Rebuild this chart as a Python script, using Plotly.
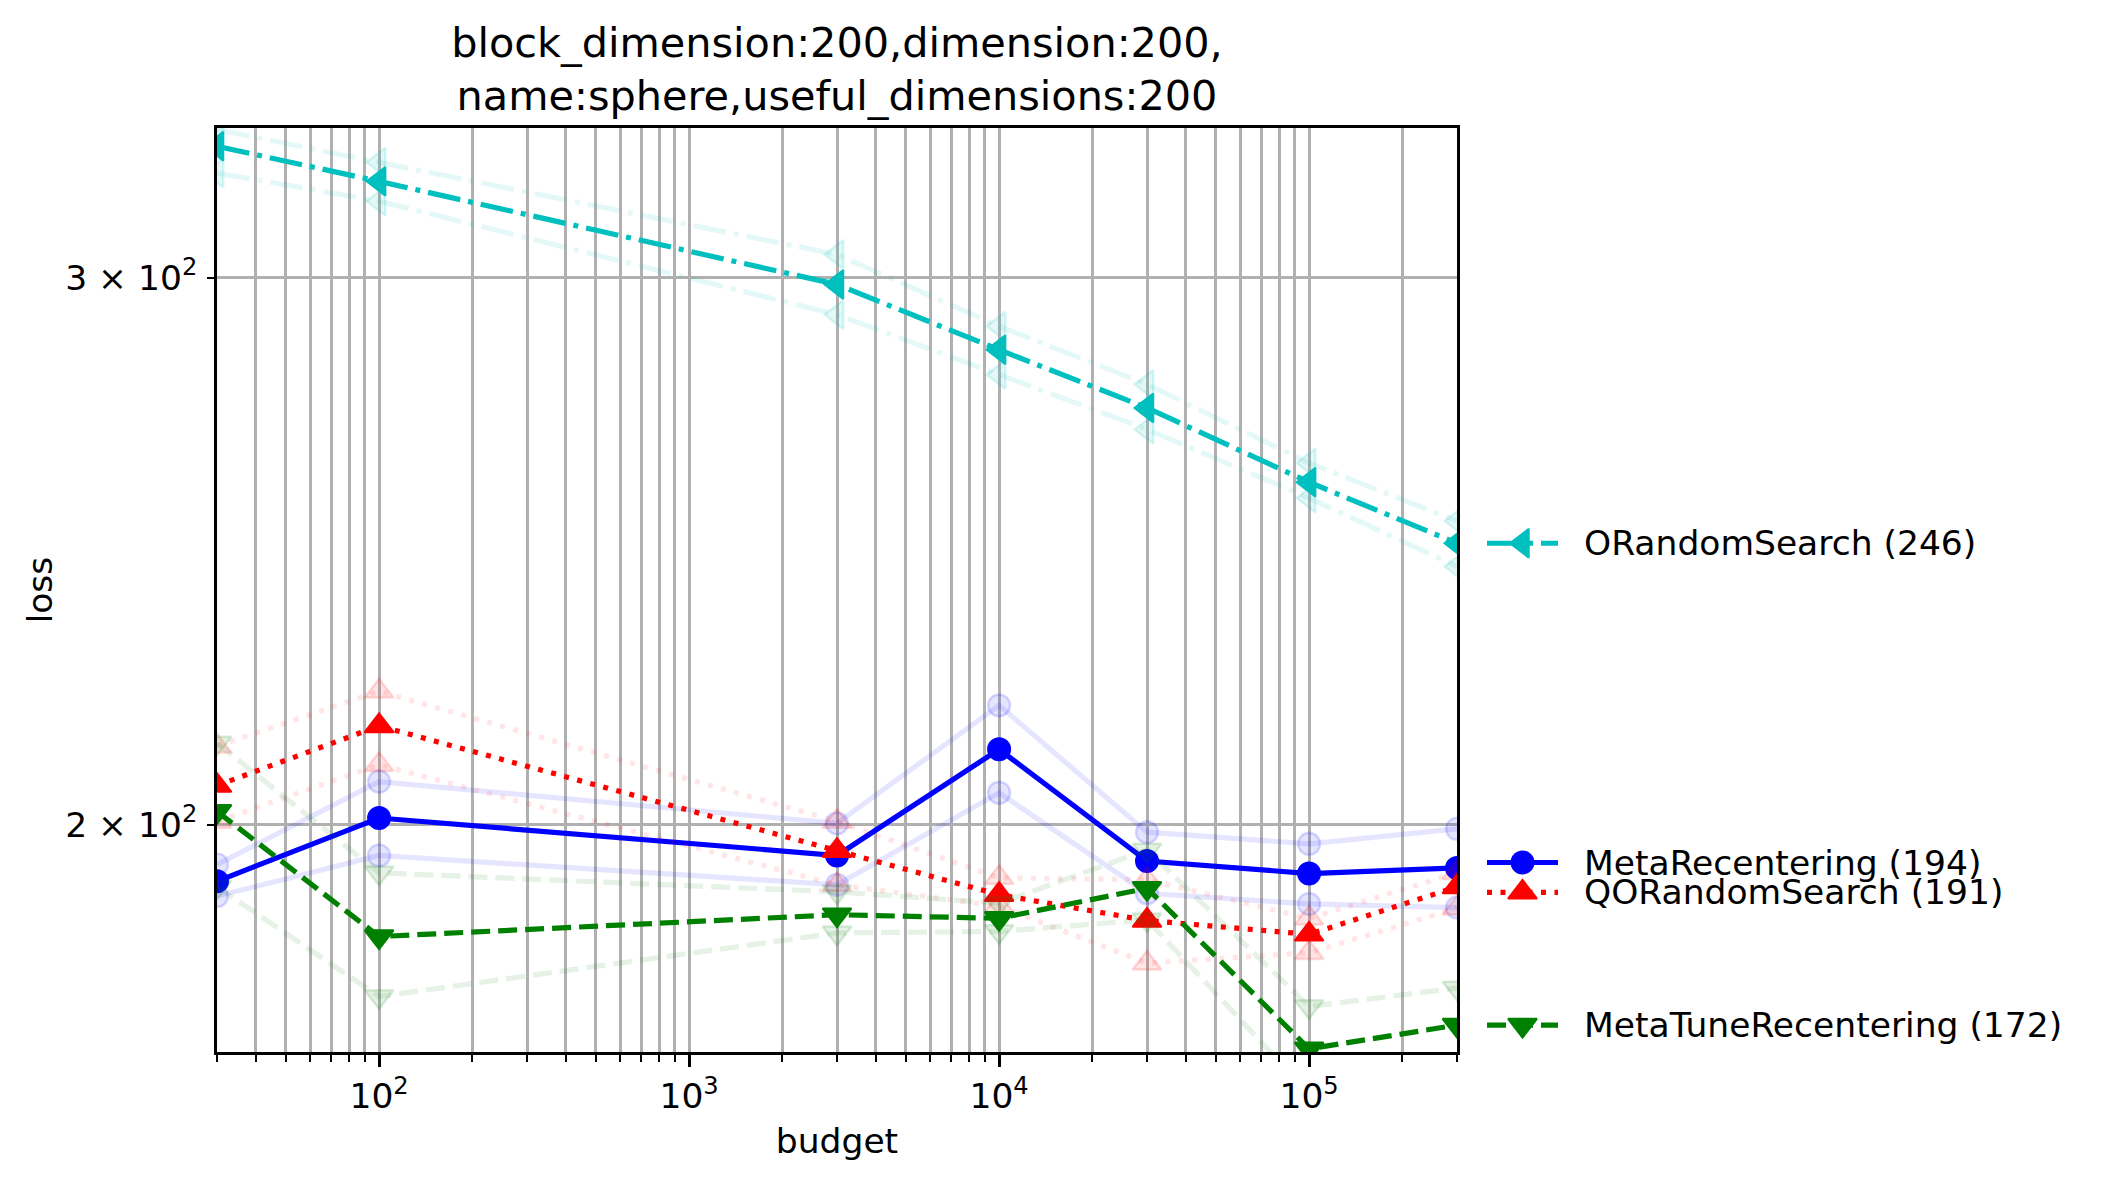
import math
import plotly.graph_objects as go

# ---------------- data ----------------
budgets = [30, 100, 3000, 10000, 30000, 100000, 300000]

orandom_mean = [330.7, 322.2, 298.5, 284.4, 272.4, 257.8, 246.4]
orandom_hi = [334.8, 326.8, 305.2, 289.4, 277.2, 261.5, 250.5]
orandom_lo = [324.2, 317.5, 291.9, 279.2, 268.1, 254.8, 242.2]

metarec_mean = [191.8, 201.0, 195.5, 211.5, 194.7, 192.9, 193.7]
metarec_hi = [194.2, 206.5, 200.2, 218.5, 198.9, 197.2, 199.4]
metarec_lo = [189.7, 195.5, 191.3, 204.8, 190.1, 188.6, 188.1]

qorandom_mean = [205.9, 215.2, 196.2, 189.9, 186.3, 184.4, 191.0]
qorandom_hi = [212.0, 220.8, 200.5, 192.3, 192.0, 186.6, 193.0]
qorandom_lo = [200.5, 209.1, 191.3, 188.3, 180.5, 181.9, 188.0]

metatune_mean = [202.0, 184.1, 187.1, 186.6, 190.8, 169.4, 172.4]
metatune_hi = [212.5, 193.0, 190.3, 188.7, 196.3, 174.8, 177.2]
metatune_lo = [191.0, 176.1, 184.6, 184.8, 186.4, 163.9, 168.0]

names = ["ORandomSearch", "MetaRecentering", "QORandomSearch", "MetaTuneRecentering"]
means = [orandom_mean, metarec_mean, qorandom_mean, metatune_mean]
highs = [orandom_hi, metarec_hi, qorandom_hi, metatune_hi]
lows = [orandom_lo, metarec_lo, qorandom_lo, metatune_lo]

x_major_exponents = [2, 3, 4, 5]
y_tick_values = [200, 300]
y_tick_labels = ["2 × 10<sup>2</sup>", "3 × 10<sup>2</sup>"]

title_text = "block_dimension:200,dimension:200,<br>name:sphere,useful_dimensions:200"

# ---------------- styles ----------------
colors = ["#00bfbf", "#0000ff", "#ff0000", "#008000"]
dashes = ["33px,8px,5px,8px", "solid", "5px,8.5px", "19px,8px"]
symbols = ["triangle-left", "circle", "triangle-up", "triangle-down"]
msizes = [25, 22, 25, 25]

# page body has an 8px margin: size the figure so it fits the window exactly
W, H = 2095, 1169
ML, MR, MT, MB = 209, 11, 120, 125
PLOT_W = 1240
paper_w = W - ML - MR
x_dom_end = PLOT_W / paper_w
LW = 5.2
FS = 34.5


def rgba(hexc, a):
    h = hexc.lstrip("#")
    r, g, b = int(h[0:2], 16), int(h[2:4], 16), int(h[4:6], 16)
    return f"rgba({r},{g},{b},{a})"


x_range = [math.log10(30), math.log10(300000)]
y_range = [math.log10(169.0), math.log10(335.2)]

fig = go.Figure()

for i, name in enumerate(names):
    c = colors[i]
    for band in (highs[i], lows[i]):
        fig.add_trace(go.Scatter(
            x=budgets, y=band, mode="lines+markers", showlegend=False,
            line=dict(color=rgba(c, 0.1), width=LW, dash=dashes[i]),
            marker=dict(symbol=symbols[i], size=msizes[i], color=rgba(c, 0.1),
                        line=dict(color=rgba(c, 0.14), width=2.5)),
            xaxis="x", yaxis="y", hoverinfo="skip"))
    fig.add_trace(go.Scatter(
        x=budgets, y=means[i], mode="lines+markers", name=name, showlegend=False,
        line=dict(color=c, width=LW, dash=dashes[i]),
        marker=dict(symbol=symbols[i], size=msizes[i], color=c,
                    line=dict(color=c, width=2)),
        xaxis="x", yaxis="y"))

# ---------------- legend placed at final values ----------------
finals = [m[-1] for m in means]
order = sorted(range(len(names)), key=lambda k: -finals[k])
pos = {k: math.log10(finals[k]) for k in order}
min_gap = 0.0096
for _ in range(50):
    for a, b in zip(order[:-1], order[1:]):
        gap = pos[a] - pos[b]
        if gap < min_gap:
            d = (min_gap - gap) / 2
            pos[a] += d
            pos[b] -= d

annotations = []
for k in order:
    yv = 10 ** pos[k]
    c = colors[k]
    fig.add_trace(go.Scatter(
        x=[0, 2], y=[yv, yv], mode="lines", showlegend=False,
        line=dict(color=c, width=LW, dash=dashes[k]),
        xaxis="x2", yaxis="y2", hoverinfo="skip"))
    fig.add_trace(go.Scatter(
        x=[1], y=[yv], mode="markers", showlegend=False,
        marker=dict(symbol=symbols[k], size=msizes[k], color=c,
                    line=dict(color=c, width=2)),
        xaxis="x2", yaxis="y2", hoverinfo="skip"))
    annotations.append(dict(
        text=f"{names[k]} ({int(round(finals[k]))})",
        xref="paper", x=(1574 - ML) / paper_w, xanchor="left",
        yref="y2", y=pos[k], yanchor="middle",
        showarrow=False, font=dict(size=FS, color="black", family="DejaVu Sans")))

minor_vals = [m * 10 ** e for e in range(1, 6) for m in range(2, 10)
              if 30 <= m * 10 ** e <= 300000]

fig.update_layout(
    template="none",
    width=W, height=H,
    margin=dict(l=ML, r=MR, t=MT, b=MB, pad=0),
    paper_bgcolor="white", plot_bgcolor="white",
    font=dict(family="DejaVu Sans", size=FS, color="black"),
    title=dict(text=title_text, x=(PLOT_W / 2) / paper_w, xref="paper", xanchor="center",
               y=1 - 48.5 / H, yref="container", yanchor="middle",
               font=dict(size=41.4, family="DejaVu Sans", color="black")),
    xaxis=dict(
        type="log", range=x_range, domain=[0, x_dom_end], anchor="y",
        tickmode="array", tickvals=[10 ** e for e in x_major_exponents],
        ticktext=[f"10<sup>{e}</sup>" for e in x_major_exponents],
        ticks="outside", ticklen=12, tickwidth=2.7, tickcolor="black",
        ticklabelstandoff=0,
        showline=True, linecolor="black", linewidth=2.7, mirror=True,
        showgrid=True, gridcolor="#b0b0b0", gridwidth=2.7, zeroline=False,
        minor=dict(tickmode="array", tickvals=minor_vals, ticks="outside", ticklen=7,
                   tickwidth=2, tickcolor="black", showgrid=True,
                   gridcolor="#b0b0b0", gridwidth=2.7),
        tickfont=dict(size=FS),
        title=dict(text="budget", font=dict(size=FS), standoff=14),
        automargin=False,
    ),
    yaxis=dict(
        type="log", range=y_range, domain=[0, 1], anchor="x",
        tickmode="array", tickvals=y_tick_values, ticktext=y_tick_labels,
        ticks="outside", ticklen=7, tickwidth=2, tickcolor="black",
        ticklabelstandoff=3,
        showline=True, linecolor="black", linewidth=2.7, mirror=True,
        showgrid=True, gridcolor="#b0b0b0", gridwidth=2.7, zeroline=False,
        tickfont=dict(size=FS),
        title=dict(text="loss", font=dict(size=FS), standoff=3),
        automargin=False,
    ),
    xaxis2=dict(domain=[(1479 - ML) / paper_w, (1550 - ML) / paper_w], range=[0, 2],
                visible=False, anchor="y2", fixedrange=True),
    yaxis2=dict(type="log", range=y_range, domain=[0, 1], anchor="x2",
                visible=False, showgrid=False),
    annotations=annotations,
    showlegend=False,
)

fig.write_html("out.html")
